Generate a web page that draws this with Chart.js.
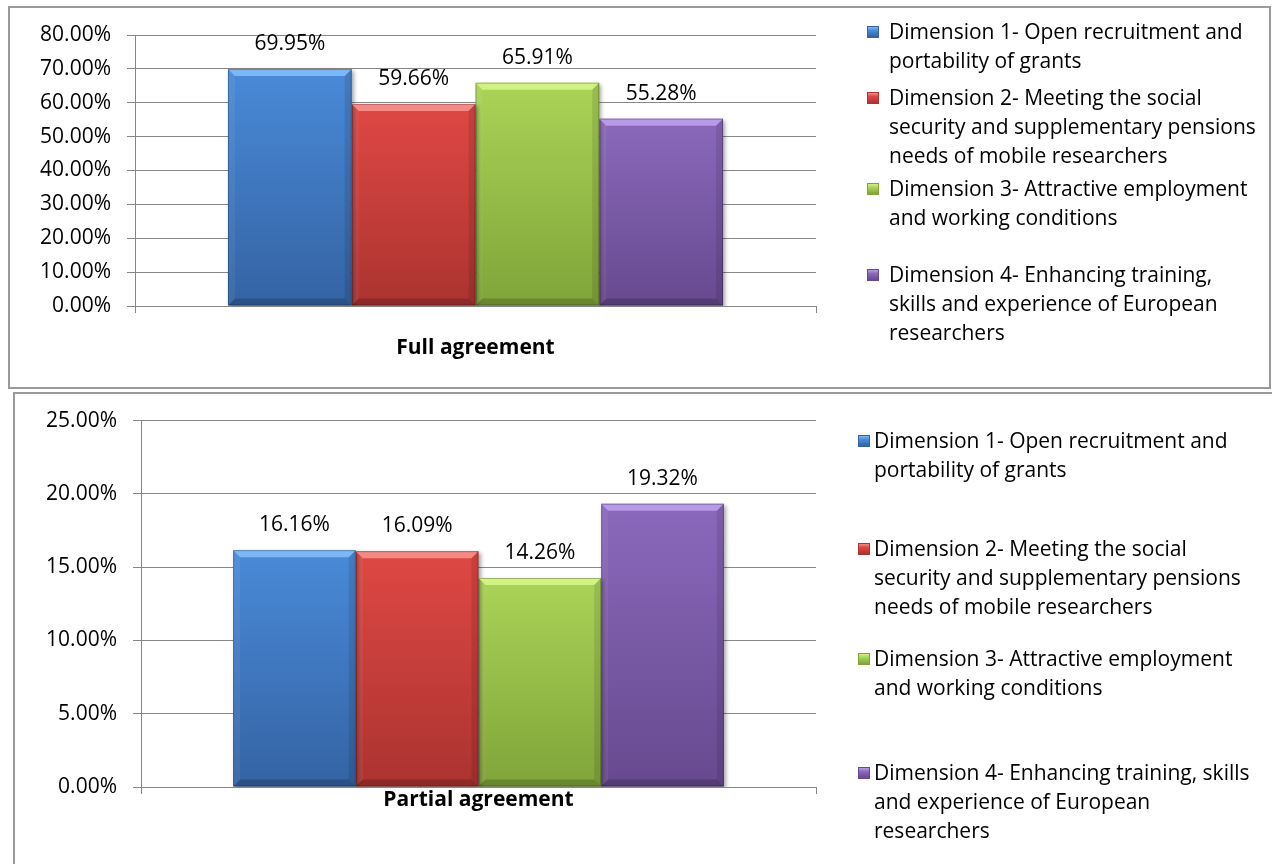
<!DOCTYPE html>
<html>
<head>
<meta charset="utf-8">
<title>Agreement by dimension</title>
<script src="https://cdn.jsdelivr.net/npm/chart.js@4.4.1/dist/chart.umd.min.js"></script>
<style>
  body { margin: 0; width: 1272px; height: 864px; overflow: hidden; background: #fff; font-family: 'Open Sans', sans-serif; }
  .frame { position: absolute; border: 2px solid #9a9a9a; box-sizing: border-box; }
  #frame-full { left: 8px; top: 6px; width: 1263px; height: 383px; }
  #frame-partial { left: 13px; top: 392px; width: 1300px; height: 520px; border-right: none; border-bottom: none; }
  canvas { position: absolute; left: 0; }
  #chart-full { top: 0; }
  #chart-partial { top: 392px; }
  .legend-item { position: absolute; font-size: 21px; line-height: 29px; color: #000; white-space: nowrap; }
  .legend-mark { position: absolute; width: 12px; height: 12px; box-sizing: border-box; }
</style>
</head>
<body>
<div class="frame" id="frame-full"></div>
<div class="frame" id="frame-partial"></div>
<canvas id="chart-full" width="1272" height="390"></canvas>
<canvas id="chart-partial" width="1272" height="472"></canvas>
<div id="legend-full"></div>
<div id="legend-partial"></div>

<script>
// ---- data ----
const FULL_CATEGORY = ['Full agreement'];
const PARTIAL_CATEGORY = ['Partial agreement'];
const DIMENSIONS = [
  'Dimension 1- Open recruitment and portability of grants',
  'Dimension 2- Meeting the social security and supplementary pensions needs of mobile researchers',
  'Dimension 3- Attractive employment and working conditions',
  'Dimension 4- Enhancing training, skills and experience of European researchers'
];
const FULL_VALUES = [69.95, 59.66, 65.91, 55.28];
const PARTIAL_VALUES = [16.16, 16.09, 14.26, 19.32];
const FULL_TICKS = [0, 10, 20, 30, 40, 50, 60, 70, 80];
const PARTIAL_TICKS = [0, 5, 10, 15, 20, 25];

// legend text as wrapped in each chart
const FULL_LEGEND_LINES = [
  ['Dimension 1- Open recruitment and', 'portability of grants'],
  ['Dimension 2- Meeting the social', 'security and supplementary pensions', 'needs of mobile researchers'],
  ['Dimension 3- Attractive employment', 'and working conditions'],
  ['Dimension 4- Enhancing training,', 'skills and experience of European', 'researchers']
];
const PARTIAL_LEGEND_LINES = [
  ['Dimension 1- Open recruitment and', 'portability of grants'],
  ['Dimension 2- Meeting the social', 'security and supplementary pensions', 'needs of mobile researchers'],
  ['Dimension 3- Attractive employment', 'and working conditions'],
  ['Dimension 4- Enhancing training, skills', 'and experience of European', 'researchers']
];

// ---- style ----
const PALETTE = [
  { top: '#4a8ad8', bottom: '#3463a3', light: '#7db8f6' },
  { top: '#df4844', bottom: '#ab3330', light: '#f58a85' },
  { top: '#aad457', bottom: '#80a439', light: '#d2f283' },
  { top: '#8a69bc', bottom: '#66498e', light: '#b89ae8' }
];
const GRID = '#878787';
const FONT = "'Open Sans', sans-serif";
const pct = v => Number(v).toFixed(2) + '%';

const barFill = (i) => (c) => {
  const p = PALETTE[i];
  const chart = c.chart;
  if (!chart.chartArea || c.type !== 'data') return p.top;
  const y = chart.scales.y;
  const g = chart.ctx.createLinearGradient(0, y.getPixelForValue(c.raw), 0, y.getPixelForValue(0));
  g.addColorStop(0, p.top);
  g.addColorStop(1, p.bottom);
  return g;
};

// soft shadow + bevelled edges, like the office 3D bar style
const bevelPlugin = {
  id: 'bevel',
  beforeDatasetsDraw(chart) {
    const ctx = chart.ctx;
    ctx.save();
    ctx.shadowColor = 'rgba(0,0,0,0.35)';
    ctx.shadowBlur = 4;
    ctx.shadowOffsetX = 2;
    ctx.shadowOffsetY = 2;
  },
  afterDatasetsDraw(chart) {
    const ctx = chart.ctx;
    ctx.restore();
    ctx.save();
    chart.data.datasets.forEach((ds, i) => {
      chart.getDatasetMeta(i).data.forEach(bar => {
        const l = bar.x - bar.width / 2, r = bar.x + bar.width / 2;
        const t = bar.y, b = bar.base, e = 7;
        const poly = (pts, fill) => {
          ctx.beginPath();
          ctx.moveTo(pts[0][0], pts[0][1]);
          pts.slice(1).forEach(p => ctx.lineTo(p[0], p[1]));
          ctx.closePath();
          ctx.fillStyle = fill;
          ctx.fill();
        };
        poly([[l, t], [r, t], [r - e, t + e], [l + e, t + e]], PALETTE[i].light);
        poly([[l, t], [l + e, t + e], [l + e, b - e], [l, b]], 'rgba(255,255,255,0.06)');
        poly([[r, t], [r - e, t + e], [r - e, b - e], [r, b]], 'rgba(0,0,0,0.10)');
        poly([[l, b], [l + e, b - e], [r - e, b - e], [r, b]], 'rgba(0,0,0,0.18)');
        ctx.strokeStyle = 'rgba(0,0,0,0.25)';
        ctx.lineWidth = 1;
        ctx.strokeRect(l + 0.5, t + 0.5, r - l - 1, b - t - 1);
      });
    });
    ctx.restore();
  }
};

const valueLabels = {
  id: 'valueLabels',
  afterDatasetsDraw(chart) {
    const ctx = chart.ctx;
    ctx.save();
    ctx.font = '21px ' + FONT;
    ctx.fillStyle = '#000';
    ctx.textAlign = 'center';
    ctx.textBaseline = 'middle';
    chart.data.datasets.forEach((ds, i) => {
      chart.getDatasetMeta(i).data.forEach((bar, j) => {
        ctx.fillText(pct(ds.data[j]), bar.x, bar.y - 25);
      });
    });
    ctx.restore();
  }
};

function makeChart(id, category, values, ticks, box) {
  return new Chart(document.getElementById(id), {
    type: 'bar',
    data: {
      labels: category,
      datasets: DIMENSIONS.map((name, i) => ({
        label: name,
        data: [values[i]],
        backgroundColor: barFill(i),
        borderWidth: 0,
        categoryPercentage: 0.727,
        barPercentage: 1
      }))
    },
    options: {
      responsive: false,
      animation: false,
      layout: { padding: { top: box.top, right: box.right, bottom: 0, left: 0 } },
      plugins: { legend: { display: false }, tooltip: { enabled: false } },
      scales: {
        x: {
          grid: { display: true, drawOnChartArea: false, drawTicks: true, tickLength: 7, color: GRID, offset: true },
          border: { display: false },
          ticks: { color: '#000', font: { family: FONT, size: 21, weight: 'bold' }, padding: box.xPad },
          afterFit: s => { s.height = box.xHeight; }
        },
        y: {
          min: ticks[0], max: ticks[ticks.length - 1],
          afterBuildTicks: s => { s.ticks = ticks.map(v => ({ value: v })); },
          grid: { color: GRID, lineWidth: 1, tickLength: 8 },
          border: { display: true, color: GRID, width: 1 },
          ticks: { color: '#000', font: { family: FONT, size: 21 }, padding: 16, callback: v => pct(v) },
          afterFit: s => { s.width = box.yWidth; }
        }
      }
    },
    plugins: [bevelPlugin, valueLabels]
  });
}

function buildLegend(chart, holderId, lines, tops, markLeft, textLeft) {
  const holder = document.getElementById(holderId);
  chart.data.datasets.forEach((ds, i) => {
    const item = document.createElement('div');
    item.className = 'legend-item';
    item.style.left = textLeft + 'px';
    item.style.top = (tops[i] - 14.5) + 'px';
    item.title = ds.label;
    item.innerHTML = lines[i].join('<br>');
    const mark = document.createElement('div');
    mark.className = 'legend-mark';
    const p = PALETTE[i];
    mark.style.left = markLeft + 'px';
    mark.style.top = (tops[i] - 5) + 'px';
    mark.style.background = `linear-gradient(to bottom, ${p.light} 0%, ${p.top} 35%, ${p.bottom} 100%)`;
    mark.style.border = '1px solid ' + p.bottom;
    holder.appendChild(mark);
    holder.appendChild(item);
  });
}

const fullChart = makeChart('chart-full', FULL_CATEGORY, FULL_VALUES, FULL_TICKS,
  { top: 35, right: 456, yWidth: 135, xHeight: 84, xPad: 22 });
const partialChart = makeChart('chart-partial', PARTIAL_CATEGORY, PARTIAL_VALUES, PARTIAL_TICKS,
  { top: 28, right: 456, yWidth: 141, xHeight: 77, xPad: -7 });

buildLegend(fullChart, 'legend-full', FULL_LEGEND_LINES, [31, 97, 188, 274], 867, 889);
buildLegend(partialChart, 'legend-partial', PARTIAL_LEGEND_LINES, [440, 548, 658, 772], 858, 874);
</script>
</body>
</html>
